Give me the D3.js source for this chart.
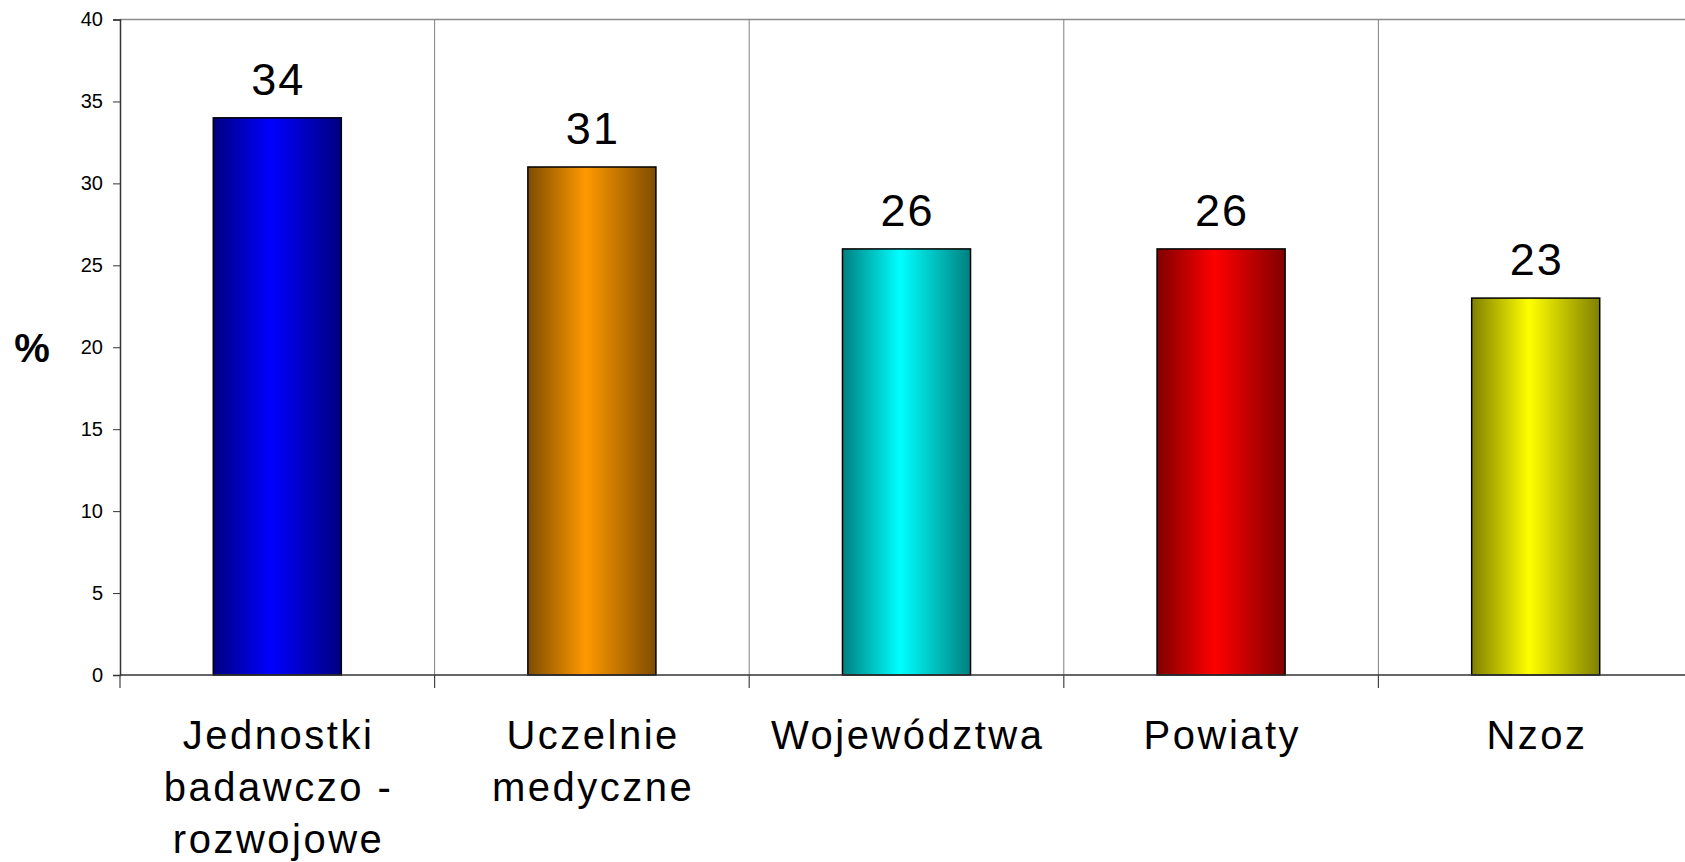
<!DOCTYPE html>
<html>
<head>
<meta charset="utf-8">
<script src="https://cdn.jsdelivr.net/npm/d3@7"></script>
<style>
  body { margin: 0; background: #fff; }
  text { font-family: "Liberation Sans", Arial, sans-serif; }
</style>
</head>
<body>
<div id="chart"></div>
<script>
// data
const categories = ['Jednostki badawczo - rozwojowe', 'Uczelnie medyczne', 'Województwa', 'Powiaty', 'Nzoz'];
const labelLines = [['Jednostki', 'badawczo -', 'rozwojowe'], ['Uczelnie', 'medyczne'], ['Województwa'], ['Powiaty'], ['Nzoz']];
const values = [34, 31, 26, 26, 23];
const yTicks = [0, 5, 10, 15, 20, 25, 30, 35, 40];
const brightColors = ['#0000ff', '#ff9900', '#00ffff', '#ff0000', '#ffff00'];
const darkColors = ['#000080', '#804c00', '#008080', '#800000', '#808000'];

const width = 1685, height = 862;
const margin = { top: 19.5, left: 120, bottom: 187 };
const plotRight = 1693; // plot runs slightly past the window edge
const labelSpacing = 2.5;

const svg = d3.select('#chart').append('svg')
  .attr('width', width)
  .attr('height', height);

const x = d3.scaleBand().domain(categories).range([margin.left, plotRight]).paddingInner(0).paddingOuter(0);
const y = d3.scaleLinear().domain([0, 40]).range([height - margin.bottom, margin.top]);
const barW = x.bandwidth() * 0.407;

// gradients
const defs = svg.append('defs');
categories.forEach((c, i) => {
  const g = defs.append('linearGradient').attr('id', 'grad' + i)
    .attr('x1', '0%').attr('x2', '100%').attr('y1', '0%').attr('y2', '0%');
  g.append('stop').attr('offset', '0%').attr('stop-color', darkColors[i]);
  g.append('stop').attr('offset', '45%').attr('stop-color', brightColors[i]);
  g.append('stop').attr('offset', '100%').attr('stop-color', darkColors[i]);
});

// top border
svg.append('line')
  .attr('x1', margin.left).attr('x2', plotRight)
  .attr('y1', y(40)).attr('y2', y(40))
  .attr('stroke', '#8c8c8c').attr('stroke-width', 1.5);

// vertical category dividers
const dividers = categories.slice(1).map(c => x(c));
svg.selectAll('.divider').data(dividers).enter().append('line')
  .attr('class', 'divider')
  .attr('x1', d => d).attr('x2', d => d)
  .attr('y1', y(40)).attr('y2', y(0))
  .attr('stroke', '#808080').attr('stroke-width', 1);

// bars
svg.selectAll('.bar').data(values).enter().append('rect')
  .attr('class', 'bar')
  .attr('x', (d, i) => x(categories[i]) + (x.bandwidth() - barW) / 2)
  .attr('y', d => y(d))
  .attr('width', barW)
  .attr('height', d => y(0) - y(d))
  .attr('fill', (d, i) => 'url(#grad' + i + ')')
  .attr('stroke', '#000').attr('stroke-width', 1.5);

// value labels
svg.selectAll('.val').data(values).enter().append('text')
  .attr('class', 'val')
  .attr('x', (d, i) => x(categories[i]) + x.bandwidth() / 2 + 1)
  .attr('y', d => y(d) - 23)
  .attr('text-anchor', 'middle')
  .attr('font-size', 45)
  .attr('letter-spacing', 2)
  .text(d => d);

// x axis
const xAxis = svg.append('g')
  .attr('transform', 'translate(0,' + y(0) + ')');
xAxis.append('line')
  .attr('x1', margin.left).attr('x2', plotRight)
  .attr('stroke', '#333').attr('stroke-width', 1.5);
const xTicks = categories.map(c => x(c));
xAxis.selectAll('.xtick').data(xTicks).enter().append('line')
  .attr('x1', d => d).attr('x2', d => d)
  .attr('y1', 0).attr('y2', 13)
  .attr('stroke', '#444').attr('stroke-width', 1.2);

// category labels
categories.forEach((c, i) => {
  const cx = x(c) + x.bandwidth() / 2 + labelSpacing / 2;
  const t = svg.append('text')
    .attr('x', cx)
    .attr('y', 749)
    .attr('text-anchor', 'middle')
    .attr('font-size', 40)
    .attr('letter-spacing', labelSpacing);
  labelLines[i].forEach((line, j) => {
    t.append('tspan')
      .attr('x', cx)
      .attr('dy', j === 0 ? 0 : 52)
      .text(line);
  });
});

// y axis
const yAxis = svg.append('g')
  .attr('transform', 'translate(' + margin.left + ',0)')
  .call(d3.axisLeft(y).tickValues(yTicks).tickSize(7).tickPadding(10));
yAxis.select('.domain').attr('stroke', '#333').attr('stroke-width', 1.5);
yAxis.selectAll('.tick line').attr('stroke', '#333');
yAxis.selectAll('.tick text')
  .attr('font-size', 20)
  .attr('font-family', '"Liberation Sans", Arial, sans-serif')
  .attr('fill', '#000');

// y title
svg.append('text')
  .attr('x', 32).attr('y', 362)
  .attr('text-anchor', 'middle')
  .attr('font-size', 40)
  .attr('font-weight', 'bold')
  .text('%');
</script>
</body>
</html>
